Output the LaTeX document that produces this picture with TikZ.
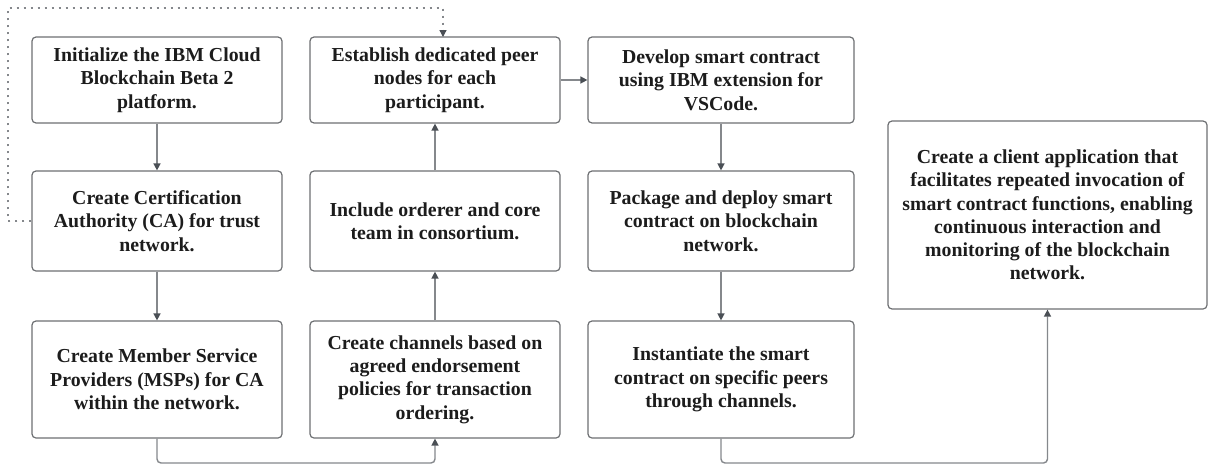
\documentclass[tikz,border=0pt]{standalone}
\usepackage{fontspec}
\setmainfont{Liberation Serif}
\usetikzlibrary{arrows.meta}
\definecolor{boxline}{HTML}{6E7073}
\definecolor{conline}{HTML}{85888C}
\definecolor{tipcol}{HTML}{4A4F55}
\definecolor{txtcol}{HTML}{1C1C1C}
\begin{document}
\begin{tikzpicture}[x=1pt,y=-1pt,
  stepbox/.style={draw=boxline, line width=1.2pt, rounded corners=4pt, fill=white,
    inner sep=0pt, align=center, text=txtcol,
    font=\fontsize{19.8}{23.3}\selectfont\bfseries},
  conn/.style={draw=conline, line width=1.4pt, rounded corners=4pt,
    -{Triangle[length=7pt,width=7pt,color=tipcol]}},
  dotconn/.style={draw=conline, line width=1.3pt, dash pattern=on 2pt off 5pt,
    -{Triangle[length=7pt,width=7pt,color=tipcol]}}
]
\useasboundingbox (0,0) rectangle (1208,466);
\fill[white] (0,0) rectangle (1208,466);

% Column A
\node[stepbox, minimum width=250pt, minimum height=86pt] (a1) at (157,80)
  {Initialize the IBM Cloud\\Blockchain Beta 2\\platform.};
\node[stepbox, minimum width=250pt, minimum height=100pt] (a2) at (157,221)
  {Create Certification\\Authority (CA) for trust\\network.};
\node[stepbox, minimum width=250pt, minimum height=117pt] (a3) at (157,379.5)
  {Create Member Service\\Providers (MSPs) for CA\\within the network.};

% Column B
\node[stepbox, minimum width=250pt, minimum height=86pt] (b1) at (435,80)
  {Establish dedicated peer\\nodes for each\\participant.};
\node[stepbox, minimum width=250pt, minimum height=100pt] (b2) at (435,221)
  {Include orderer and core\\team in consortium.};
\node[stepbox, minimum width=250pt, minimum height=117pt] (b3) at (435,379.5)
  {Create channels based on\\agreed endorsement\\policies for transaction\\ordering.};

% Column C
\node[stepbox, minimum width=266pt, minimum height=86pt] (c1) at (721,80)
  {Develop smart contract\\using IBM extension for\\VSCode.};
\node[stepbox, minimum width=266pt, minimum height=100pt] (c2) at (721,221)
  {Package and deploy smart\\contract on blockchain\\network.};
\node[stepbox, minimum width=266pt, minimum height=117pt] (c3) at (721,379.5)
  {Instantiate the smart\\contract on specific peers\\through channels.};

% Column D
\node[stepbox, minimum width=319pt, minimum height=188pt] (d) at (1047.5,215)
  {Create a client application that\\facilitates repeated invocation of\\smart contract functions, enabling\\continuous interaction and\\monitoring of the blockchain\\network.};

% helper coordinates
\coordinate (ab1) at (157,463);
\coordinate (ab2) at (435,463);
\coordinate (cd1) at (721,463);
\coordinate (cd2) at (1047.5,463);
\coordinate (lp1) at (8,221);
\coordinate (lp2) at (8,8);
\coordinate (lp3) at (443,8);
\coordinate (lp4) at (443,37);

% connectors
\draw[conn] (a1.south) -- (a2.north);
\draw[conn] (a2.south) -- (a3.north);
\draw[conn] (a3.south) -- (ab1) -- (ab2) -- (b3.south);
\draw[conn] (b3.north) -- (b2.south);
\draw[conn] (b2.north) -- (b1.south);
\draw[conn] (b1.east) -- (c1.west);
\draw[conn] (c1.south) -- (c2.north);
\draw[conn] (c2.south) -- (c3.north);
\draw[conn] (c3.south) -- (cd1) -- (cd2) -- (d.south);
\draw[dotconn] (a2.west) -- (lp1) -- (lp2) -- (lp3) -- (lp4);
\end{tikzpicture}
\end{document}
